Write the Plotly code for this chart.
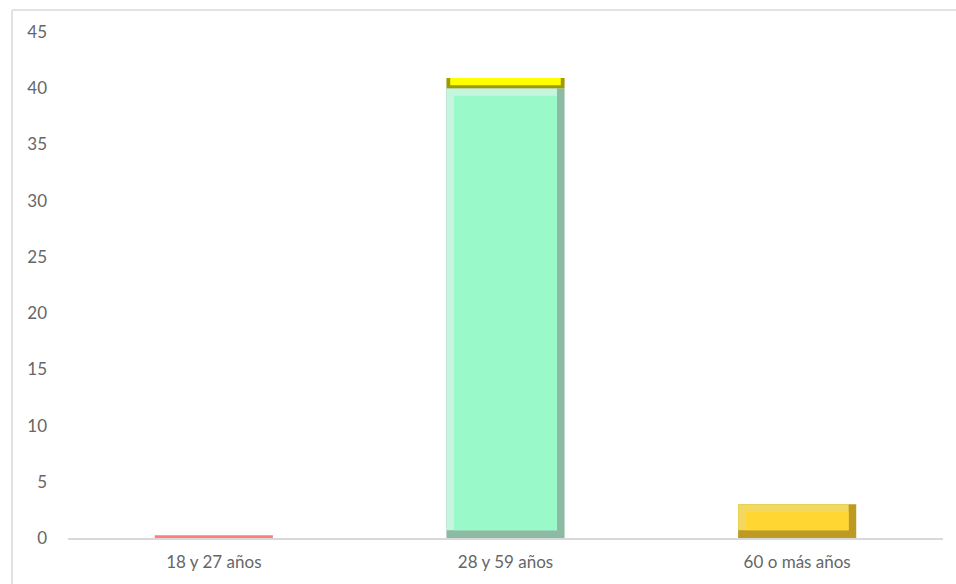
import plotly.graph_objects as go

# Data
categories = ["18 y 27 años", "28 y 59 años", "60 o más años"]
values = [0.25, 40, 3]
top_segment = [0, 0.9, 0]

face_colors = ["#FF7C80", "#99F9C8", "#FFD632"]
light_colors = ["#FF7C80", "#C4F6DD", "#F2D85E"]
dark_colors = ["#FF7C80", "#8DBAA3", "#BD9A22"]
top_face = "#FFFF00"
top_dark = "#9E9A00"

W, H = 956, 584
ml, mr, mt, mb = 68, 13, 32, 46
plot_w = W - ml - mr
plot_h = H - mt - mb

bar_w = 0.405          # bar width in category units
bev_x = 0.026          # bevel thickness, category units
bev_y = 0.68           # bevel thickness, value units

def bevel_ok(v):
    return v > 2 * bev_y

fig = go.Figure()

# dark outer layer (right / bottom edge)
fig.add_trace(go.Bar(
    x=categories, y=values, width=bar_w,
    marker=dict(color=dark_colors, line=dict(width=0)),
    hoverinfo="skip", showlegend=False,
))

# light layer (left / top edge)
fig.add_trace(go.Bar(
    x=categories,
    y=[v - bev_y if bevel_ok(v) else 0 for v in values],
    base=[bev_y if bevel_ok(v) else 0 for v in values],
    width=bar_w - bev_x, offset=-bar_w / 2,
    marker=dict(color=light_colors, line=dict(width=0)),
    hoverinfo="skip", showlegend=False,
))

# bar face
fig.add_trace(go.Bar(
    x=categories,
    y=[v - 2 * bev_y if bevel_ok(v) else 0 for v in values],
    base=[bev_y if bevel_ok(v) else 0 for v in values],
    width=bar_w - 2 * bev_x, offset=-bar_w / 2 + bev_x,
    marker=dict(color=face_colors, line=dict(width=0)),
    hoverinfo="skip", showlegend=False,
))

# thin segment stacked on top
fig.add_trace(go.Bar(
    x=categories, y=top_segment, base=values, width=bar_w,
    marker=dict(color=top_dark, line=dict(width=0)),
    hoverinfo="skip", showlegend=False,
))
fig.add_trace(go.Bar(
    x=categories,
    y=[s * 0.7 for s in top_segment],
    base=[v + s * 0.3 for v, s in zip(values, top_segment)],
    width=bar_w - bev_x, offset=-bar_w / 2 + bev_x / 2,
    marker=dict(color=top_face, line=dict(width=0)),
    hoverinfo="skip", showlegend=False,
))

# chart-area border (left and top edges)
bx0 = (12 - ml) / plot_w
by1 = (H - mb - 10) / plot_h
fig.add_shape(type="line", xref="paper", yref="paper",
              x0=bx0, x1=bx0, y0=by1, y1=-2,
              line=dict(color="#D9D9D9", width=1.5))
fig.add_shape(type="line", xref="paper", yref="paper",
              x0=bx0, x1=2, y0=by1, y1=by1,
              line=dict(color="#D9D9D9", width=1.5))

font_family = "Lato, Carlito, Calibri, sans-serif"

fig.update_layout(
    width=W, height=H,
    margin=dict(l=ml, r=mr, t=mt, b=mb),
    paper_bgcolor="white", plot_bgcolor="white",
    barmode="overlay",
    showlegend=False,
    font=dict(family=font_family, color="#595959", size=17),
    xaxis=dict(
        type="category", range=[-0.5, 2.5],
        showline=True, linecolor="#D9D9D9", linewidth=1.5,
        showgrid=False, zeroline=False, ticks="",
        ticklabelstandoff=8,
        tickfont=dict(size=17, color="#666666"),
    ),
    yaxis=dict(
        range=[0, 45], dtick=5, tick0=0,
        showline=False, showgrid=False, zeroline=False, ticks="",
        ticklabelstandoff=20,
        tickfont=dict(size=17, color="#666666"),
    ),
)

fig.write_html("out.html")
